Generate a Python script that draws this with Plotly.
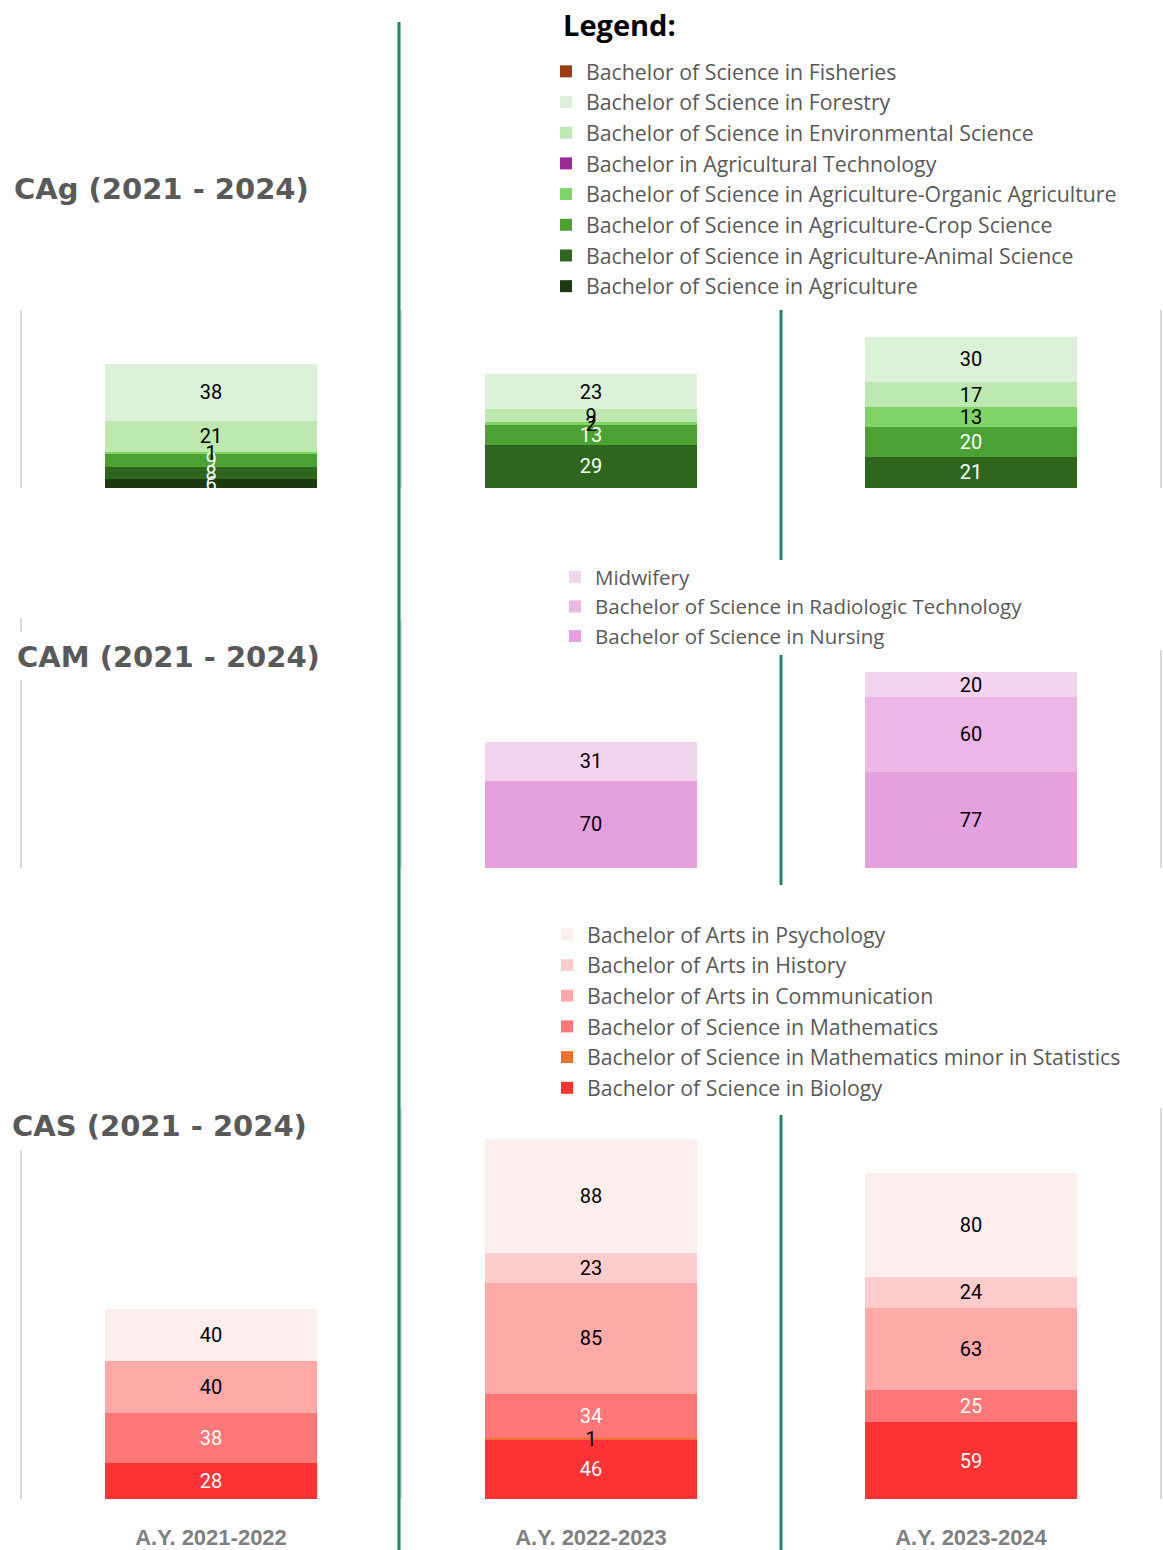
import plotly.graph_objects as go

years = ["A.Y. 2021-2022", "A.Y. 2022-2023", "A.Y. 2023-2024"]

# CAg (bottom -> top stacking order)
cag_names = [
    "Bachelor of Science in Agriculture",
    "Bachelor of Science in Agriculture-Animal Science",
    "Bachelor of Science in Agriculture-Crop Science",
    "Bachelor of Science in Agriculture-Organic Agriculture",
    "Bachelor in Agricultural Technology",
    "Bachelor of Science in Environmental Science",
    "Bachelor of Science in Forestry",
    "Bachelor of Science in Fisheries",
]
cag_values = [
    [6, None, None],
    [8, 29, 21],
    [9, 13, 20],
    [1, 2, 13],
    [None, None, None],
    [21, 9, 17],
    [38, 23, 30],
    [None, None, None],
]
cag_colors = ["#1b3a11", "#2f661d", "#4ba232", "#80d466", "#9c2a94", "#bde9b0", "#dcf2d8", "#9b3f12"]
cag_text = ["white", "white", "white", "black", "white", "black", "black", "white"]

# CAM
cam_names = [
    "Bachelor of Science in Nursing",
    "Bachelor of Science in Radiologic Technology",
    "Midwifery",
]
cam_values = [
    [None, 70, 77],
    [None, None, 60],
    [None, 31, 20],
]
cam_colors = ["#e5a1dd", "#ecb6e6", "#f3d4ef"]
cam_text = ["black", "black", "black"]

# CAS
cas_names = [
    "Bachelor of Science in Biology",
    "Bachelor of Science in Mathematics minor in Statistics",
    "Bachelor of Science in Mathematics",
    "Bachelor of Arts in Communication",
    "Bachelor of Arts in History",
    "Bachelor of Arts in Psychology",
]
cas_values = [
    [28, 46, 59],
    [None, 1, None],
    [38, 34, 25],
    [40, 85, 63],
    [None, 23, 24],
    [40, 88, 80],
]
cas_colors = ["#ff3333", "#ed7031", "#ff7777", "#ffa9a9", "#ffcccc", "#fdeded"]
cas_text = ["white", "black", "white", "black", "black", "black"]

W, H = 1163, 1550


def py(pix):
    return 1 - pix / H


def px(pix):
    return pix / W


fig = go.Figure()

groups = [
    (cag_names, cag_values, cag_colors, cag_text, "x", "y", "y4", "legend"),
    (cam_names, cam_values, cam_colors, cam_text, "x2", "y2", "y5", "legend2"),
    (cas_names, cas_values, cas_colors, cas_text, "x3", "y3", "y6", "legend3"),
]
for names, vals, cols, tcols, xa, ya, yo, lg in groups:
    # coloured bars
    for n, v, c in zip(names, vals, cols):
        fig.add_trace(go.Bar(
            x=years, y=v, name=n, marker=dict(color=c, line=dict(width=0)),
            xaxis=xa, yaxis=ya, legend=lg, showlegend=True, hoverinfo="skip",
        ))
    # identical transparent stack on an overlaying axis so that every label sits on top
    for n, v, tc in zip(names, vals, tcols):
        fig.add_trace(go.Bar(
            x=years, y=v, name=n, marker=dict(color="rgba(0,0,0,0)", line=dict(width=0)),
            text=[("" if val is None else str(val)) for val in v],
            textposition="inside", insidetextanchor="middle", textangle=0,
            textfont=dict(color=tc, size=20, family="Roboto"),
            constraintext="none",
            xaxis=xa, yaxis=yo, showlegend=False, hoverinfo="skip",
        ))

xdom = [px(21), px(1161)]
ranges = {"y": [0, 119.1], "y2": [0, 174.7], "y3": [0, 299.3]}
noax = dict(showticklabels=False, showgrid=False, zeroline=False, showline=False, automargin=False)
fig.update_layout(
    width=W, height=H, autosize=False,
    margin=dict(l=0, r=0, t=0, b=0, autoexpand=False),
    plot_bgcolor="white", paper_bgcolor="white",
    barmode="stack", bargap=0.442,
    uniformtext=dict(minsize=20, mode="show"),
    font=dict(family="Roboto", color="#595959"),
    xaxis=dict(domain=xdom, anchor="y", **noax),
    xaxis2=dict(domain=xdom, anchor="y2", **noax),
    xaxis3=dict(domain=xdom, anchor="y3", showticklabels=True, showgrid=False, zeroline=False, showline=False,
                automargin=False, ticks="", ticklabelstandoff=23,
                tickfont=dict(family="Liberation Sans", size=22, color="#7f7f7f", weight="bold")),
    yaxis=dict(domain=[py(488), py(310)], range=ranges["y"], visible=False, automargin=False),
    yaxis2=dict(domain=[py(868), py(650)], range=ranges["y2"], visible=False, automargin=False),
    yaxis3=dict(domain=[py(1499), py(1110)], range=ranges["y3"], visible=False, automargin=False),
    yaxis4=dict(overlaying="y", range=ranges["y"], visible=False, anchor="x"),
    yaxis5=dict(overlaying="y2", range=ranges["y2"], visible=False, anchor="x2"),
    yaxis6=dict(overlaying="y3", range=ranges["y3"], visible=False, anchor="x3"),
    legend=dict(x=px(546), y=py(51), xanchor="left", yanchor="top", traceorder="reversed",
                font=dict(size=21.3, color="#595959", family="Open Sans"), bgcolor="rgba(0,0,0,0)"),
    legend2=dict(x=px(555), y=py(557), xanchor="left", yanchor="top", traceorder="reversed",
                 font=dict(size=20.5, color="#595959", family="Open Sans"), bgcolor="rgba(0,0,0,0)"),
    legend3=dict(x=px(547), y=py(914), xanchor="left", yanchor="top", traceorder="reversed",
                 font=dict(size=21.3, color="#595959", family="Open Sans"), bgcolor="rgba(0,0,0,0)"),
)

# light gray frame lines of original sub-charts
gray = "#d9d9d9"
gray_segments = [
    (21, 310, 488), (1161, 310, 488), (401, 310, 488),
    (21, 618, 632), (21, 680, 868), (1161, 650, 868), (401, 620, 868),
    (21, 1150, 1499), (1161, 1108, 1499), (401, 1108, 1499),
]
for x, y0, y1 in gray_segments:
    fig.add_shape(type="line", xref="paper", yref="paper", x0=px(x), x1=px(x), y0=py(y0), y1=py(y1),
                  line=dict(color=gray, width=2), layer="below")

teal = "#23806f"
teal_segments = [(399, 22, 1550), (781, 310, 560), (781, 655, 885), (781, 1115, 1550)]
for x, y0, y1 in teal_segments:
    fig.add_shape(type="line", xref="paper", yref="paper", x0=px(x), x1=px(x), y0=py(y0), y1=py(y1),
                  line=dict(color=teal, width=3))

titles = [("CAg (2021 - 2024)", 12, 189), ("CAM (2021 - 2024)", 15, 657), ("CAS (2021 - 2024)", 10, 1126)]
for t, x, y in titles:
    fig.add_annotation(text=t, xref="paper", yref="paper", x=px(x), y=py(y), xanchor="left", yanchor="middle",
                       showarrow=False, font=dict(family="DejaVu Sans", size=29, color="#595959", weight="bold"),
                       bgcolor="white")

fig.add_annotation(text="Legend:", xref="paper", yref="paper", x=px(561), y=py(24), xanchor="left",
                   yanchor="middle", showarrow=False,
                   font=dict(family="Open Sans", size=29, color="black", weight="bold"))

fig.write_html("out.html", config={"displayModeBar": False, "responsive": False},
               post_script="document.body.style.margin='0';document.body.style.padding='0';")
